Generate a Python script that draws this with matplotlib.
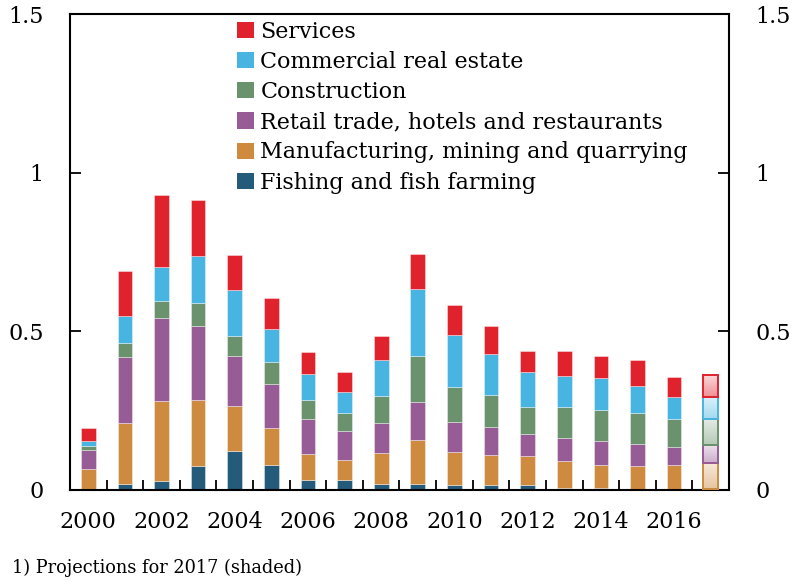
import numpy as np
import matplotlib
matplotlib.use("Agg")
import matplotlib.pyplot as plt
from matplotlib.patches import Patch
from matplotlib.colors import to_rgb

plt.rcParams['font.family'] = ['DejaVu Serif']

years = list(range(2000, 2018))
fishing = [0.003, 0.018, 0.028, 0.076, 0.122, 0.079, 0.031, 0.031, 0.020, 0.018,
           0.016, 0.017, 0.015, 0.006, 0.006, 0.004, 0.002, 0.002]
manufacturing = [0.062, 0.193, 0.253, 0.209, 0.143, 0.117, 0.084, 0.065, 0.097, 0.141,
                 0.104, 0.094, 0.092, 0.084, 0.073, 0.073, 0.076, 0.084]
retail = [0.062, 0.209, 0.262, 0.232, 0.157, 0.139, 0.108, 0.089, 0.095, 0.119,
          0.095, 0.086, 0.071, 0.074, 0.076, 0.069, 0.058, 0.056]
construction = [0.012, 0.043, 0.053, 0.072, 0.064, 0.069, 0.060, 0.059, 0.084, 0.144,
                0.110, 0.102, 0.084, 0.097, 0.098, 0.097, 0.088, 0.081]
commercial = [0.014, 0.085, 0.106, 0.147, 0.144, 0.103, 0.084, 0.066, 0.114, 0.210,
              0.164, 0.129, 0.110, 0.097, 0.099, 0.086, 0.068, 0.071]
services = [0.041, 0.141, 0.227, 0.177, 0.112, 0.097, 0.069, 0.061, 0.074, 0.113,
            0.093, 0.088, 0.065, 0.081, 0.070, 0.082, 0.065, 0.068]

labels = ["Fishing and fish farming", "Manufacturing, mining and quarrying",
          "Retail trade, hotels and restaurants", "Construction",
          "Commercial real estate", "Services"]
colors = ["#245A7A", "#CE8B40", "#975B96", "#6A926C", "#48B4E1", "#E0222D"]
series = [fishing, manufacturing, retail, construction, commercial, services]

yticks = [0, 0.5, 1, 1.5]
ytick_labels = ["0", "0.5", "1", "1.5"]
footnote = "1) Projections for 2017 (shaded)"

fig = plt.figure(figsize=(7.92, 5.85), dpi=100)
ax = fig.add_axes([0.0884, 0.1624, 0.832, 0.8136])

x = np.arange(len(years))
n_hist = len(years) - 1
width = 0.4
bottom = np.zeros(len(years))
for vals, col in zip(series, colors):
    v = np.array(vals)
    ax.bar(x[:n_hist], v[:n_hist], width, bottom=bottom[:n_hist], color=col,
           edgecolor=(1, 1, 1, 0.45), linewidth=0.6, zorder=2)
    bars = ax.bar(x[n_hist:], v[n_hist:], width, bottom=bottom[n_hist:],
                  facecolor='none', edgecolor=col, linewidth=1.4, zorder=4)
    c = np.array(to_rgb(col))
    top_c = c * 0.18 + 0.82
    bot_c = c * 0.5 + 0.5
    grad = np.linspace(0, 1, 64)[:, None, None]
    img = top_c * (1 - grad) + bot_c * grad
    for p in bars.patches:
        if p.get_height() > 0.004:
            ax.imshow(img, extent=(p.get_x(), p.get_x() + p.get_width(),
                                   p.get_y(), p.get_y() + p.get_height()),
                      aspect='auto', origin='upper', zorder=3, interpolation='bilinear')
    bottom += v

ax.set_xlim(-0.5, len(years) - 0.5)
ax.set_ylim(0, 1.5)
ax.set_yticks(yticks)
ax.set_yticklabels(ytick_labels)
ax.set_xticks(x[::2])
ax.set_xticklabels([str(y) for y in years[::2]])
ax.set_xticks(np.arange(0.5, len(years) - 1, 1), minor=True)
ax.tick_params(axis='x', which='major', length=0, pad=15, labelsize=16)
ax.tick_params(axis='x', which='minor', direction='in', length=7, width=1.3)
ax.tick_params(axis='y', which='major', direction='in', length=8, width=1.3,
               pad=19, labelsize=16, left=True, right=True,
               labelleft=True, labelright=True)
for s in ax.spines.values():
    s.set_linewidth(1.5)

handles = [Patch(facecolor=c, edgecolor='none') for c in colors[::-1]]
leg = ax.legend(handles, labels[::-1], loc='upper left', bbox_to_anchor=(0.24, 1.005),
                frameon=False, fontsize=16, handlelength=0.75, handleheight=0.75,
                handletextpad=0.3, labelspacing=0.37, borderaxespad=0)

fig.text(0.015, 0.029, footnote, fontsize=12.8, ha='left', va='center')

fig.savefig("out.png", dpi=100)
